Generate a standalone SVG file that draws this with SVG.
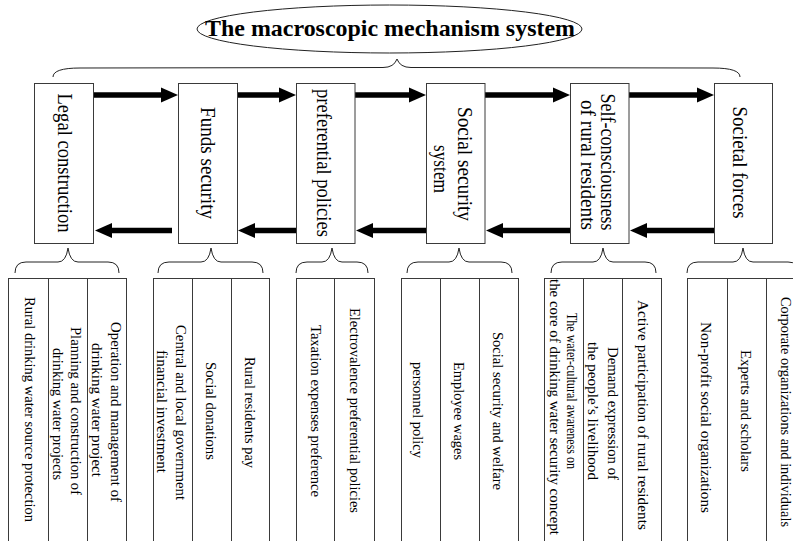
<svg xmlns="http://www.w3.org/2000/svg" width="793" height="541" viewBox="0 0 793 541">
<style>
  .bg{fill:#ffffff}
  .box{fill:#ffffff;stroke:#3a3a3a;stroke-width:1}
  .cell{fill:none;stroke:#3a3a3a;stroke-width:1}
  .brace{fill:none;stroke:#222;stroke-width:1}
  .shaft{stroke:#000;stroke-width:5.5;fill:none}
  .t{font-family:"Liberation Serif","Times New Roman",serif;fill:#000;text-anchor:middle}
  .bt{font-size:20px}
  .ct{font-size:15px}
  .title{font-size:23px;font-weight:bold}
</style>
<defs>
  <marker id="head" markerUnits="userSpaceOnUse" viewBox="0 -8 17 16" markerWidth="17" markerHeight="16" refX="0" refY="0" orient="auto" overflow="visible">
    <path d="M0,-7.5 L17,0 L0,7.5 Z" fill="#000"/>
  </marker>
</defs>
<rect class="bg" x="0" y="0" width="793" height="541"/>

<g id="title">
  <ellipse cx="389.5" cy="29" rx="192.5" ry="24" fill="none" stroke="#222" stroke-width="1"/>
  <text class="t title" x="390" y="36" textLength="370" lengthAdjust="spacingAndGlyphs">The macroscopic mechanism system</text>
</g>

<g id="braces">
  <path class="brace" d="M53,77 Q53,68 80,68 L383,67.5 Q394,67.5 397,59 Q400,67.5 411,67.5 L713,68 Q740,68 740,77"/>
  <path class="brace" d="M15,273 Q15,262 26,262 L58,262 Q66,262 68,248 Q70,262 78,262 L108,262 Q119,262 119,273"/>
  <path class="brace" d="M158,273 Q158,262 169,262 L201,262 Q209,262 211,248 Q213,262 221,262 L252,262 Q263,262 263,273"/>
  <path class="brace" d="M296,273 Q296,262 307,262 L322,262 Q330,262 332,248 Q334,262 342,262 L357,262 Q368,262 368,273"/>
  <path class="brace" d="M407,273 Q407,262 418,262 L449,262 Q457,262 459,248 Q461,262 469,262 L501,262 Q512,262 512,273"/>
  <path class="brace" d="M551,273 Q551,262 562,262 L593,262 Q601,262 603,248 Q605,262 613,262 L645,262 Q656,262 656,273"/>
  <path class="brace" d="M687,273 Q687,262 698,262 L733,262 Q741,262 743,248 Q745,262 753,262 L788,262 Q799,262 799,273"/>
</g>

<g id="connectors">
  <line class="shaft" x1="93" y1="95" x2="161" y2="95" marker-end="url(#head)"/>
  <line class="shaft" x1="237" y1="95" x2="279" y2="95" marker-end="url(#head)"/>
  <line class="shaft" x1="355" y1="95" x2="409" y2="95" marker-end="url(#head)"/>
  <line class="shaft" x1="485" y1="95" x2="553" y2="95" marker-end="url(#head)"/>
  <line class="shaft" x1="629" y1="95" x2="697" y2="95" marker-end="url(#head)"/>
  <line class="shaft" x1="172" y1="230.5" x2="112" y2="230.5" marker-end="url(#head)"/>
  <line class="shaft" x1="296" y1="230.5" x2="255" y2="230.5" marker-end="url(#head)"/>
  <line class="shaft" x1="426" y1="230.5" x2="373" y2="230.5" marker-end="url(#head)"/>
  <line class="shaft" x1="570" y1="230.5" x2="503" y2="230.5" marker-end="url(#head)"/>
  <line class="shaft" x1="714" y1="230.5" x2="647" y2="230.5" marker-end="url(#head)"/>
</g>

<g id="node-legal">
  <rect class="box" x="34.5" y="83.5" width="59" height="160"/>
  <text class="t bt" transform="translate(58,163) rotate(90)" textLength="139" lengthAdjust="spacingAndGlyphs">Legal construction</text>
</g>
<g id="node-funds">
  <rect class="box" x="178.5" y="83.5" width="59" height="160"/>
  <text class="t bt" transform="translate(201,163) rotate(90)" textLength="112" lengthAdjust="spacingAndGlyphs">Funds security</text>
</g>
<g id="node-preferential">
  <rect class="box" x="296.5" y="83.5" width="58.5" height="160"/>
  <text class="t bt" transform="translate(317,163) rotate(90)" textLength="148" lengthAdjust="spacingAndGlyphs">preferential policies</text>
</g>
<g id="node-social-security">
  <rect class="box" x="426.5" y="83.5" width="58.5" height="160"/>
  <text class="t bt" transform="translate(458,164) rotate(90)" textLength="114" lengthAdjust="spacingAndGlyphs">Social security</text>
  <text class="t bt" transform="translate(433.5,169) rotate(90)" textLength="48" lengthAdjust="spacingAndGlyphs">system</text>
</g>
<g id="node-self-consciousness">
  <rect class="box" x="570.5" y="83.5" width="58.5" height="160"/>
  <text class="t bt" transform="translate(601,162) rotate(90)" textLength="137" lengthAdjust="spacingAndGlyphs">Self-consciousness</text>
  <text class="t bt" transform="translate(581,165) rotate(90)" textLength="130" lengthAdjust="spacingAndGlyphs">of rural residents</text>
</g>
<g id="node-societal-forces">
  <rect class="box" x="714.5" y="83.5" width="58" height="160"/>
  <text class="t bt" transform="translate(733,162.5) rotate(90)" textLength="112" lengthAdjust="spacingAndGlyphs">Societal forces</text>
</g>

<g id="group-legal-items">
  <rect class="cell" x="8.5" y="278.5" width="118" height="280"/>
  <line class="cell" x1="48.5" y1="278.5" x2="48.5" y2="560"/>
  <line class="cell" x1="87.5" y1="278.5" x2="87.5" y2="560"/>
  <text class="t ct" transform="translate(25,409.5) rotate(90)" textLength="225" lengthAdjust="spacingAndGlyphs">Rural drinking water source protection</text>
  <text class="t ct" transform="translate(71.2,411) rotate(90)" textLength="168" lengthAdjust="spacingAndGlyphs">Planning and construction of</text>
  <text class="t ct" transform="translate(53,414) rotate(90)" textLength="132" lengthAdjust="spacingAndGlyphs">drinking water projects</text>
  <text class="t ct" transform="translate(111.4,412) rotate(90)" textLength="180" lengthAdjust="spacingAndGlyphs">Operation and management of</text>
  <text class="t ct" transform="translate(92,410) rotate(90)" textLength="134" lengthAdjust="spacingAndGlyphs">drinking water project</text>
</g>

<g id="group-funds-items">
  <rect class="cell" x="153.5" y="278.5" width="116" height="280"/>
  <line class="cell" x1="192.5" y1="278.5" x2="192.5" y2="560"/>
  <line class="cell" x1="231.5" y1="278.5" x2="231.5" y2="560"/>
  <text class="t ct" transform="translate(176.4,412.5) rotate(90)" textLength="175" lengthAdjust="spacingAndGlyphs">Central and local government</text>
  <text class="t ct" transform="translate(157,411.5) rotate(90)" textLength="123" lengthAdjust="spacingAndGlyphs">financial investment</text>
  <text class="t ct" transform="translate(205.5,411) rotate(90)" textLength="98" lengthAdjust="spacingAndGlyphs">Social donations</text>
  <text class="t ct" transform="translate(245,412.5) rotate(90)" textLength="111" lengthAdjust="spacingAndGlyphs">Rural residents pay</text>
</g>

<g id="group-preferential-items">
  <rect class="cell" x="296.5" y="278.5" width="78" height="280"/>
  <line class="cell" x1="334.5" y1="278.5" x2="334.5" y2="560"/>
  <text class="t ct" transform="translate(311.4,411) rotate(90)" textLength="172" lengthAdjust="spacingAndGlyphs">Taxation expenses preference</text>
  <text class="t ct" transform="translate(350,410.5) rotate(90)" textLength="205" lengthAdjust="spacingAndGlyphs">Electrovalence preferential policies</text>
</g>

<g id="group-social-security-items">
  <rect class="cell" x="401.5" y="278.5" width="117" height="280"/>
  <line class="cell" x1="440.5" y1="278.5" x2="440.5" y2="560"/>
  <line class="cell" x1="479.5" y1="278.5" x2="479.5" y2="560"/>
  <text class="t ct" transform="translate(413,410) rotate(90)" textLength="96" lengthAdjust="spacingAndGlyphs">personnel policy</text>
  <text class="t ct" transform="translate(454,411) rotate(90)" textLength="98" lengthAdjust="spacingAndGlyphs">Employee wages</text>
  <text class="t ct" transform="translate(493,411) rotate(90)" textLength="158" lengthAdjust="spacingAndGlyphs">Social security and welfare</text>
</g>

<g id="group-self-consciousness-items">
  <rect class="cell" x="544.5" y="278.5" width="117" height="280"/>
  <line class="cell" x1="583.5" y1="278.5" x2="583.5" y2="560"/>
  <line class="cell" x1="622.5" y1="278.5" x2="622.5" y2="560"/>
  <text class="t ct" transform="translate(566.5,391) rotate(90)" textLength="156" lengthAdjust="spacingAndGlyphs">The water-cultural awareness on</text>
  <text class="t ct" transform="translate(550,407) rotate(90)" textLength="256" lengthAdjust="spacingAndGlyphs">the core of drinking water security concept</text>
  <text class="t ct" transform="translate(608,413.5) rotate(90)" textLength="133" lengthAdjust="spacingAndGlyphs">Demand expression of</text>
  <text class="t ct" transform="translate(588,411) rotate(90)" textLength="138" lengthAdjust="spacingAndGlyphs">the people’s livelihood</text>
  <text class="t ct" transform="translate(638,415) rotate(90)" textLength="230" lengthAdjust="spacingAndGlyphs">Active participation of rural residents</text>
</g>

<g id="group-societal-forces-items">
  <rect class="cell" x="687.5" y="278.5" width="118" height="280"/>
  <line class="cell" x1="727.5" y1="278.5" x2="727.5" y2="560"/>
  <line class="cell" x1="766.5" y1="278.5" x2="766.5" y2="560"/>
  <text class="t ct" transform="translate(701.4,417.5) rotate(90)" textLength="191" lengthAdjust="spacingAndGlyphs">Non-profit social organizations</text>
  <text class="t ct" transform="translate(741.4,411) rotate(90)" textLength="122" lengthAdjust="spacingAndGlyphs">Experts and scholars</text>
  <text class="t ct" transform="translate(780.5,412) rotate(90)" textLength="230" lengthAdjust="spacingAndGlyphs">Corporate organizations and individuals</text>
</g>
</svg>
